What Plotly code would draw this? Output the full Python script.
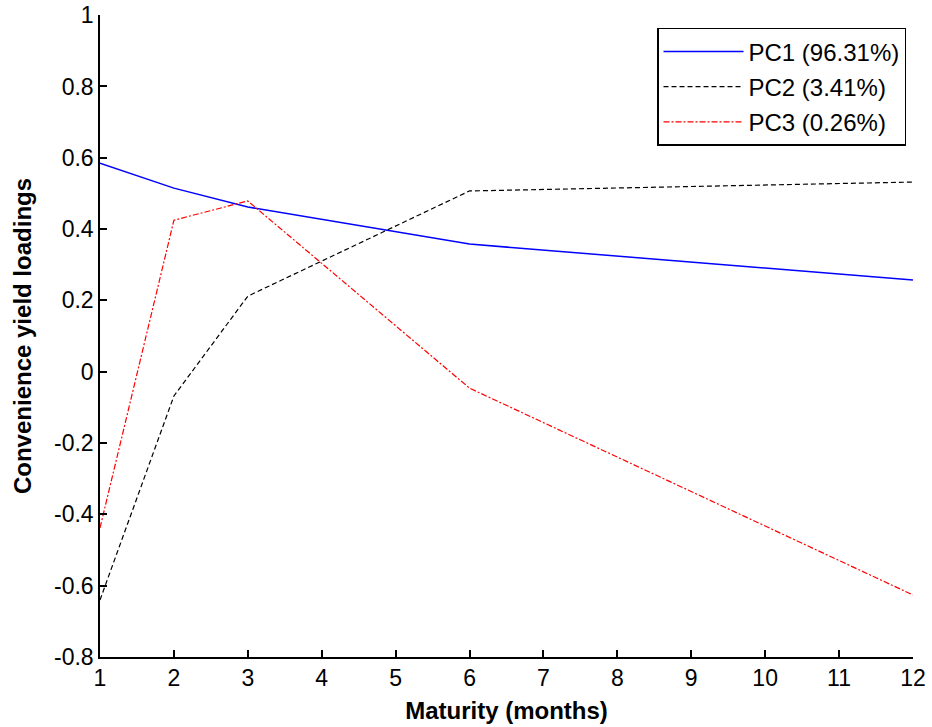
import plotly.graph_objects as go

maturity = [1, 2, 3, 6, 12]
pc1 = [0.585, 0.515, 0.462, 0.358, 0.257]
pc2 = [-0.640, -0.068, 0.212, 0.507, 0.532]
pc3 = [-0.438, 0.425, 0.479, -0.046, -0.626]
names = ["PC1 (96.31%)", "PC2 (3.41%)", "PC3 (0.26%)"]

xticks = list(range(1, 13))
yticks = [-0.8, -0.6, -0.4, -0.2, 0, 0.2, 0.4, 0.6, 0.8, 1]
yticktext = ["-0.8", "-0.6", "-0.4", "-0.2", "0", "0.2", "0.4", "0.6", "0.8", "1"]

font = "Liberation Sans, Arial, sans-serif"

fig = go.Figure()
fig.add_trace(go.Scatter(x=maturity, y=pc1, mode="lines", name=names[0], legendgroup="a",
                         line=dict(color="#0000ff", width=1.5, dash="solid")))
fig.add_trace(go.Scatter(x=maturity, y=pc2, mode="lines", name=names[1], legendgroup="b",
                         line=dict(color="#000000", width=1.2, dash="5px,3px")))
fig.add_trace(go.Scatter(x=maturity, y=pc3, mode="lines", name=names[2], legendgroup="c",
                         line=dict(color="#ff0000", width=1.2, dash="6px,2px,2px,2px")))

fig.update_layout(
    width=932, height=727,
    margin=dict(l=100, r=19, t=15, b=70),
    plot_bgcolor="white", paper_bgcolor="white",
    font=dict(family=font, size=23, color="black"),
    legend=dict(x=0.9914, y=0.98, xanchor="right", yanchor="top",
                bordercolor="black", borderwidth=1.5, bgcolor="white",
                font=dict(size=24), itemwidth=80, tracegroupgap=1),
    xaxis=dict(range=[1, 12.0005], tickvals=xticks, ticktext=[str(v) for v in xticks],
               showline=True, linecolor="black", linewidth=1.5, mirror=False,
               ticks="inside", ticklen=7, tickwidth=1.5, tickcolor="black",
               showgrid=False, zeroline=False, automargin=False, ticklabeloverflow="allow",
               title=dict(text="<b>Maturity (months)</b>", font=dict(size=24), standoff=12)),
    yaxis=dict(range=[-0.8, 1.0005], tickvals=yticks, ticktext=yticktext,
               showline=True, linecolor="black", linewidth=1.5, mirror=False,
               ticks="inside", ticklen=7, tickwidth=1.5, tickcolor="black",
               showgrid=False, zeroline=False, automargin=False, ticklabeloverflow="allow",
               title=dict(text="<b>Convenience yield loadings</b>", font=dict(size=24), standoff=16)),
)

fig.write_html("out.html", config={"displayModeBar": False},
               post_script="document.body.style.margin='0px';")
